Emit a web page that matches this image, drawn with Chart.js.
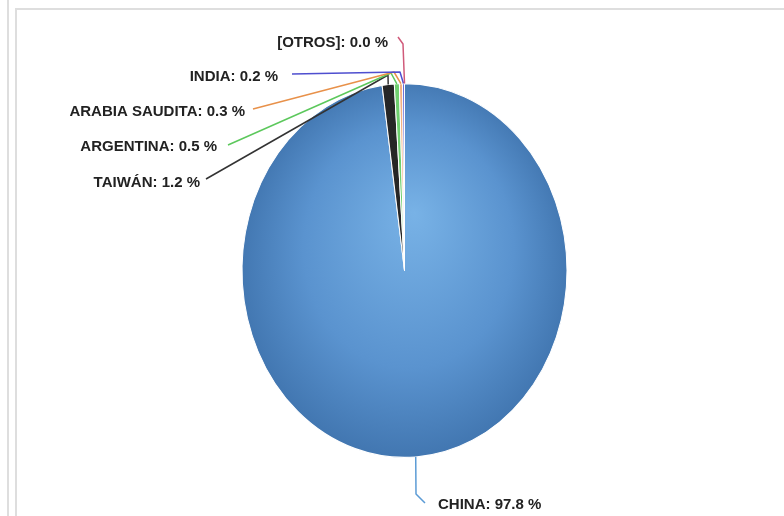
<!DOCTYPE html>
<html>
<head>
<meta charset="utf-8">
<script src="https://cdn.jsdelivr.net/npm/chart.js@4"></script>
<style>
  body { margin: 0; background: #fff; }
  #wrap { position: relative; width: 784px; height: 516px; overflow: hidden; }
  .ln { position: absolute; background: #dedede; }
  canvas { position: absolute; left: 0; top: 0; }
</style>
</head>
<body>
<div id="wrap">
  <div class="ln" style="left:7px;top:0;width:2px;height:516px"></div>
  <div class="ln" style="left:15px;top:8px;width:2px;height:508px"></div>
  <div class="ln" style="left:15px;top:8px;width:769px;height:2px"></div>
  <canvas id="grafica" width="784" height="516"></canvas>
</div>
<script>
// Datos
const paises = ['CHINA', 'TAIWÁN', 'ARGENTINA', 'ARABIA SAUDITA', 'INDIA', '[OTROS]'];
const porcentajes = [97.8, 1.2, 0.5, 0.3, 0.2, 0.0];

// Colores
const coloresSector = ['#5b9bd5', '#262626', '#6fcf6f', '#f4b183', '#6a6ad6', '#e06080'];
const coloresLinea = ['#5b9bd5', '#333333', '#5cc85c', '#e8914a', '#4f4fcf', '#d05a7a'];

// Posición de las etiquetas (x final del texto, y), codo de la línea guía y su extremo
const etiquetas = [
  { x: 438, y: 505, align: 'left', codo: [[416, 494]], fin: [425, 503] },
  { x: 200, y: 183, align: 'right', codo: [[388, 75]], fin: [206, 179] },
  { x: 217, y: 147, align: 'right', codo: [[391, 73]], fin: [228, 145] },
  { x: 245, y: 112, align: 'right', codo: [[394, 72]], fin: [253, 109] },
  { x: 278, y: 77, align: 'right', codo: [[400, 72]], fin: [292, 74] },
  { x: 388, y: 43, align: 'right', codo: [[403, 44]], fin: [398, 37] }
];

const escalaY = 187.5 / 163; // el pastel es una elipse

const elipse = {
  id: 'elipse',
  beforeDatasetsDraw(chart) {
    const arc = chart.getDatasetMeta(0).data[0];
    const ctx = chart.ctx;
    ctx.save();
    ctx.translate(arc.x, arc.y);
    ctx.scale(1, escalaY);
    ctx.translate(-arc.x, -arc.y);
  },
  afterDatasetsDraw(chart) {
    chart.ctx.restore();
  }
};

const guias = {
  id: 'guias',
  afterDraw(chart) {
    const ctx = chart.ctx;
    const arcs = chart.getDatasetMeta(0).data;
    ctx.save();
    ctx.font = 'bold 15px "Liberation Sans", Arial, sans-serif';
    ctx.textBaseline = 'middle';
    arcs.forEach((a, i) => {
      const mid = (a.startAngle + a.endAngle) / 2;
      const px = a.x + Math.cos(mid) * a.outerRadius;
      const py = a.y + Math.sin(mid) * a.outerRadius * escalaY;
      const e = etiquetas[i];
      ctx.strokeStyle = coloresLinea[i];
      ctx.lineWidth = 1.5;
      ctx.lineJoin = 'round';
      ctx.beginPath();
      ctx.moveTo(px, py);
      e.codo.forEach(p => ctx.lineTo(p[0], p[1]));
      ctx.lineTo(e.fin[0], e.fin[1]);
      ctx.stroke();
      ctx.fillStyle = '#222222';
      ctx.textAlign = e.align;
      ctx.fillText(paises[i] + ': ' + porcentajes[i].toFixed(1) + ' %', e.x, e.y);
    });
    ctx.restore();
  }
};

function fondoChina(context) {
  const chart = context.chart;
  const area = chart.chartArea;
  if (!area) return coloresSector[0];
  const cx = (area.left + area.right) / 2;
  const cy = (area.top + area.bottom) / 2;
  const g = chart.ctx.createRadialGradient(cx + 10, cy - 50, 0, cx, cy, 175);
  g.addColorStop(0, '#78b2e6');
  g.addColorStop(0.6, '#5a93cf');
  g.addColorStop(1, '#3e72ac');
  return g;
}

const ctx = document.getElementById('grafica').getContext('2d');
new Chart(ctx, {
  type: 'pie',
  data: {
    labels: paises,
    datasets: [{
      data: porcentajes,
      backgroundColor: (c) => c.dataIndex === 0 ? fondoChina(c) : coloresSector[c.dataIndex],
      borderColor: '#ffffff',
      borderWidth: 1,
      clip: false
    }]
  },
  options: {
    responsive: false,
    animation: false,
    layout: { padding: { left: 241.5, right: 216.5, top: 107.5, bottom: 82.5 } },
    plugins: { legend: { display: false }, tooltip: { enabled: false } }
  },
  plugins: [elipse, guias]
});
</script>
</body>
</html>
